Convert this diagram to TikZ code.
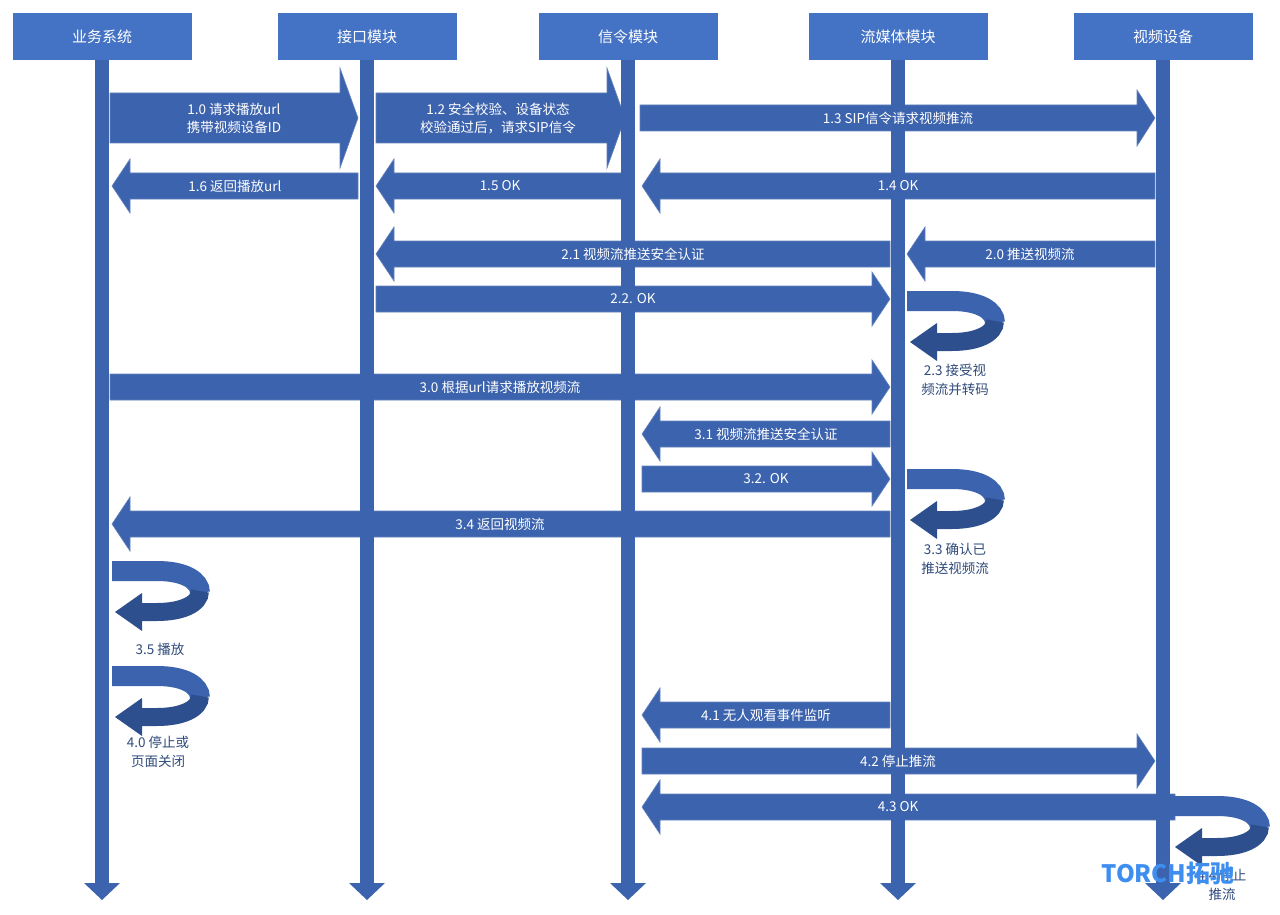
\documentclass[tikz,border=0pt]{standalone}
\usepackage{fontspec}
\setmainfont{Noto Sans CJK SC}
\begin{document}
\begin{tikzpicture}[x=1pt,y=-1pt,
  hdr/.style={fill=hdrc,minimum width=179pt,minimum height=47pt,text=white,font=\fontsize{15}{17}\selectfont,inner sep=0pt},
  lbl/.style={text=white,font=\fontsize{13.5}{18}\selectfont,align=center,inner sep=0pt},
  dlbl/.style={text=dlc,font=\fontsize{13.5}{19}\selectfont,align=center,inner sep=0pt},
  arr/.style={fill=arrc,draw=arrc!80!white,line width=0.6pt}]
\definecolor{hdrc}{HTML}{4472C4}
\definecolor{arrc}{HTML}{3C63AE}
\definecolor{darkc}{HTML}{2E4F8E}
\definecolor{dlc}{HTML}{2F4A7A}
\definecolor{wmc}{HTML}{3E8EF0}
\useasboundingbox (0,0) rectangle (1280,915);
\newcommand\barrow[6]{\fill[arr] (#1,#3-#4) -- (#2-#6,#3-#4) -- (#2-#6,#3-#5) -- (#2,#3) -- (#2-#6,#3+#5) -- (#2-#6,#3+#4) -- (#1,#3+#4) -- cycle;}
\newcommand\uturn[2]{% x0, y0 top
  \draw[arrc,line width=20pt] (#1,#2+11) -- (#1+45,#2+11) .. controls (#1+72,#2+11) and (#1+88,#2+20) .. (#1+88,#2+33);
  \draw[darkc,line width=18pt] (#1+88,#2+31) .. controls (#1+88,#2+44) and (#1+70,#2+52) .. (#1+45,#2+52) -- (#1+28,#2+52);
  \fill[darkc] (#1+3,#2+52) -- (#1+30,#2+33) -- (#1+30,#2+71) -- cycle;}
% arrows
\barrow{110}{358}{118}{25}{50}{18}
\barrow{376}{625}{118}{25}{50}{18}
\barrow{640}{1155}{118}{13}{28}{18}
\barrow{358}{112}{186}{13}{27}{-18}
\barrow{625}{376}{186}{13}{27}{-18}
\barrow{1155}{642}{186}{13}{27}{-18}
\barrow{890}{376}{254}{13}{27}{-18}
\barrow{1155}{907}{254}{13}{27}{-18}
\barrow{376}{890}{299}{13}{27}{18}
\barrow{110}{890}{387}{13}{27}{18}
\barrow{890}{642}{434}{13}{27}{-18}
\barrow{642}{890}{479}{13}{27}{18}
\barrow{890}{112}{524}{13}{27}{-18}
\barrow{890}{642}{715}{13}{27}{-18}
\barrow{642}{1155}{761}{13}{27}{18}
\barrow{1175}{642}{807}{13}{27}{-18}
% lifelines
\foreach \n/\x/\t in {a/102/业务系统,b/367/接口模块,c/628/信令模块,d/898/流媒体模块,e/1163/视频设备}{
  \node[hdr] (h\n) at (\x,37) {\t};
  \fill[arrc] (\x-7,60) rectangle (\x+7,883);
  \fill[arrc] (\x-18,883) -- (\x+18,883) -- (\x,900) -- cycle;
}
% u-turns
\uturn{907}{290}
\uturn{907}{468}
\uturn{112}{560}
\uturn{112}{665}
\uturn{1172}{795}
% labels
\node[lbl] (l10) at (234,118) {1.0 请求播放url\\携带视频设备ID};
\node[lbl] (l12) at (498,118) {1.2 安全校验、设备状态\\校验通过后，请求SIP信令};
\node[lbl] (l13) at (898,118) {1.3 SIP信令请求视频推流};
\node[lbl] (l16) at (235,186) {1.6 返回播放url};
\node[lbl] (l15) at (500,186) {1.5 OK};
\node[lbl] (l14) at (898,186) {1.4 OK};
\node[lbl] (l21) at (633,254) {2.1 视频流推送安全认证};
\node[lbl] (l20) at (1030,254) {2.0 推送视频流};
\node[lbl] (l22) at (633,299) {2.2. OK};
\node[lbl] (l30) at (500,387) {3.0 根据url请求播放视频流};
\node[lbl] (l31) at (766,434) {3.1 视频流推送安全认证};
\node[lbl] (l32) at (766,479) {3.2. OK};
\node[lbl] (l34) at (500,524) {3.4 返回视频流};
\node[lbl] (l41) at (766,715) {4.1 无人观看事件监听};
\node[lbl] (l42) at (898,761) {4.2 停止推流};
\node[lbl] (l43) at (898,807) {4.3 OK};
\node[dlbl] (l23) at (955,380) {2.3 接受视\\频流并转码};
\node[dlbl] (l33) at (955,559) {3.3 确认已\\推送视频流};
\node[dlbl] (l35) at (160,649) {3.5 播放};
\node[dlbl] (l40) at (158,752) {4.0 停止或\\页面关闭};
\node[dlbl] (l44) at (1222,885) {4.4 停止\\推流};
\node[text=wmc,font=\bfseries\fontsize{24}{26}\selectfont,inner sep=0pt] (wm) at (1168,873) {TORCH拓驰};
\end{tikzpicture}
\end{document}
